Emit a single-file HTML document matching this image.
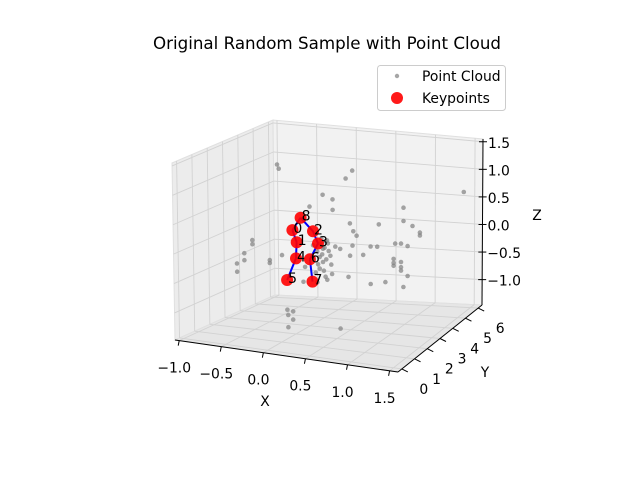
<!DOCTYPE html>
<html><head><meta charset="utf-8"><style>
body{margin:0;background:#fff;}
svg{display:block;font-family:"DejaVu Sans","Liberation Sans",sans-serif;}
</style></head><body>
<svg id="chart" width="640" height="480" viewBox="0 0 640 480" xmlns="http://www.w3.org/2000/svg">
<rect width="640" height="480" fill="#fff"/>
<text x="327" y="49" font-size="16.7" text-anchor="middle">Original Random Sample with Point Cloud</text>
<g id="axes"></g>
<g id="cloud"></g>
<g id="skel"></g>
<g id="kps"></g>
<g>
<rect x="377.5" y="65.5" width="128" height="45" rx="3" fill="#fff" fill-opacity="0.8" stroke="#ccc"/>
<circle cx="397" cy="76" r="2.2" fill="#808080" fill-opacity="0.7"/>
<text x="422" y="81" font-size="13.9">Point Cloud</text>
<circle cx="397" cy="98" r="6" fill="#ff0000" fill-opacity="0.9"/>
<text x="422" y="103" font-size="13.9">Keypoints</text>
</g>
</svg>
<script>
const xTicks=[-1.0,-0.5,0.0,0.5,1.0,1.5];
const yTicks=[0,1,2,3,4,5,6];
const zTicks=[-1.0,-0.5,0.0,0.5,1.0,1.5];
const xTickLabels=["\u22121.0","\u22120.5","0.0","0.5","1.0","1.5"];
const yTickLabels=["0","1","2","3","4","5","6"];
const zTickLabels=["\u22121.0","\u22120.5","0.0","0.5","1.0","1.5"];
const cloudX=[-.30,-.28,.61,.53,1.96,.25,.37,.37,.09,1.23,.58,.93,1.23,1.34,1.43,1.43,.62,.66,1.13,1.20,1.28,.83,.91,.61,.58,.74,.40,.46,.30,.25,.34,.25,.21,.36,.18,.01,.56,1.11,1.11,1.20,1.20,1.28,.83,1.01,1.23,-.61,-.61,-.71,-.71,-.80,-.80,-.40,-.40,-.25,-.19,-.18,-.18,-.12,-.12,.46,.03,.13,.18,.21,.28,.22,.27,.32,.24,.29,.35,.19,.26,.31,.23,.28,1.11,1.20,.16,.30];
const cloudY=[2.5,2.5,2.5,2.5,2.5,2.5,2.5,2.5,2.5,2.5,2.5,2.5,2.5,2.5,2.5,2.5,2.5,2.5,2.5,2.5,2.5,2.5,2.5,2.5,2.5,2.5,2.5,2.5,2.5,2.5,2.5,2.5,2.5,2.5,2.5,2.5,2.5,2.5,2.5,2.5,2.5,2.5,2.5,2.5,2.5,2.5,2.5,2.5,2.5,2.5,2.5,2.5,2.5,2.5,2.5,2.5,2.5,2.5,2.5,2.5,2.5,2.5,2.5,2.5,2.5,2.5,2.5,2.5,2.5,2.5,2.5,2.5,2.5,2.5,2.5,2.5,2.5,2.5,2.5,2.5];
const cloudZ=[1.34,1.27,1.39,1.24,1.25,.91,.85,.67,.68,.85,.47,.51,.62,.55,.45,.40,.34,.27,.21,.22,.19,.11,.12,.09,-.09,-.05,.04,.01,.13,-.02,-.13,-.25,-.37,-.44,-.61,-.63,-.46,-.06,-.18,-.10,-.19,-.33,-.54,-.48,-.53,-.01,-.08,-.25,-.37,-.44,-.58,-.32,-.37,-.21,-1.14,-1.23,-1.44,-1.16,-1.30,-1.37,-.37,.02,-.08,-.17,.11,.06,.00,-.05,-.12,-.20,-.28,-.30,-.40,.08,.15,-.50,-.13,-.25,-.45,-.55];
const kpLabels=["0","1","2","3","4","5","6","7","8"];
const kpX=[-.12,-.07,.13,.19,-.08,-.19,.09,.12,-.02];
const kpY=[2.5,2.5,2.5,2.5,2.5,2.5,2.5,2.5,2.5];
const kpZ=[.24,.04,.26,.06,-.24,-.63,-.23,-.61,.47];
const edgesFrom=[8,8,0,2,1,3,4,6];
const edgesTo=[0,2,1,3,4,6,5,7];

const XMIN=-1.05,XMAX=1.6,YMIN=-0.3,YMAX=6.3,ZMIN=-1.46,ZMAX=1.55;
const C={ '000':[175,340],'100':[398,372],'010':[275,295],'110':[482,305],
          '001':[172,163],'101':[398,195],'011':[273,120],'111':[483,139]};
function proj(x,y,z){
  const u=(x-XMIN)/(XMAX-XMIN), v=(y-YMIN)/(YMAX-YMIN), w=(z-ZMIN)/(ZMAX-ZMIN);
  let px=0,py=0;
  for(const a of [0,1])for(const b of [0,1])for(const c of [0,1]){
    const wt=(a?u:1-u)*(b?v:1-v)*(c?w:1-w);
    const p=C[''+a+b+c]; px+=wt*p[0]; py+=wt*p[1];
  }
  return [px,py];
}
const NS="http://www.w3.org/2000/svg";
function mk(tag,attrs,parent){const e=document.createElementNS(NS,tag);for(const k in attrs)e.setAttribute(k,attrs[k]);parent.appendChild(e);return e;}
function poly(pts){return pts.map(p=>p[0].toFixed(1)+','+p[1].toFixed(1)).join(' ');}
const ax=document.getElementById('axes');
let p=mk('polygon',{points:poly([proj(XMIN,YMIN,ZMIN),proj(XMIN,YMAX,ZMIN),proj(XMIN,YMAX,ZMAX),proj(XMIN,YMIN,ZMAX)]),fill:'#ececec',stroke:'#e0e0e0'},ax);


p=mk('polygon',{points:poly([proj(XMIN,YMAX,ZMIN),proj(XMAX,YMAX,ZMIN),proj(XMAX,YMAX,ZMAX),proj(XMIN,YMAX,ZMAX)]),fill:'#f2f2f2',stroke:'#e0e0e0'},ax);


p=mk('polygon',{points:poly([proj(XMIN,YMIN,ZMIN),proj(XMAX,YMIN,ZMIN),proj(XMAX,YMAX,ZMIN),proj(XMIN,YMAX,ZMIN)]),fill:'#e6e6e6',stroke:'#e0e0e0'},ax);


function gl(a,b){const l=mk('line',{x1:a[0],y1:a[1],x2:b[0],y2:b[1],stroke:'#d2d2d2','stroke-width':0.9},ax);

}
xTicks.forEach(t=>{gl(proj(t,YMIN,ZMIN),proj(t,YMAX,ZMIN));gl(proj(t,YMAX,ZMIN),proj(t,YMAX,ZMAX));});
yTicks.forEach(t=>{gl(proj(XMIN,t,ZMIN),proj(XMAX,t,ZMIN));gl(proj(XMIN,t,ZMIN),proj(XMIN,t,ZMAX));});
zTicks.forEach(t=>{gl(proj(XMIN,YMIN,t),proj(XMIN,YMAX,t));gl(proj(XMIN,YMAX,t),proj(XMAX,YMAX,t));});
function axl(a,b,name){const l=mk('line',{x1:a[0],y1:a[1],x2:b[0],y2:b[1],stroke:'#000','stroke-width':1},ax);

}
axl(proj(XMIN,YMIN,ZMIN),proj(XMAX,YMIN,ZMIN),'x-axis-line');
axl(proj(XMAX,YMIN,ZMIN),proj(XMAX,YMAX,ZMIN),'y-axis-line');
axl(proj(XMAX,YMAX,ZMIN),proj(XMAX,YMAX,ZMAX),'z-axis-line');
function txt(s,pt,name,anchor){const t=mk('text',{x:pt[0].toFixed(1),y:pt[1].toFixed(1),'font-size':13.9,'text-anchor':anchor||'middle'},ax);t.textContent=s;

return t;}
xTicks.forEach((t,i)=>{const a=proj(t,YMIN,ZMIN);axl(a,[a[0]-1,a[1]+5],'x-tick');txt(xTickLabels[i],[a[0]-5,a[1]+32],'x-tick-label');});
yTicks.forEach((t,i)=>{const a=proj(XMAX,t,ZMIN);axl(a,[a[0]+6,a[1]+3],'y-tick');txt(yTickLabels[i],[a[0]+22,a[1]+25],'y-tick-label');});
zTicks.forEach((t,i)=>{const a=proj(XMAX,YMAX,t);axl([a[0]-4,a[1]],[a[0]+4,a[1]],'z-tick');txt(zTickLabels[i],[a[0]+5,a[1]+6],'z-tick-label','start');});
txt('X',[265,406],'x-axis-title');
txt('Y',[485,377],'y-axis-title');
txt('Z',[537,220],'z-axis-title');
const cg=document.getElementById('cloud');
cloudX.forEach((x,i)=>{const q=proj(x,cloudY[i],cloudZ[i]);
const c=mk('circle',{cx:q[0].toFixed(1),cy:q[1].toFixed(1),r:2.3,fill:'#808080','fill-opacity':0.7},cg);

});
const sg=document.getElementById('skel');
edgesFrom.forEach((a,i)=>{const b=edgesTo[i];const p1=proj(kpX[a],kpY[a],kpZ[a]),p2=proj(kpX[b],kpY[b],kpZ[b]);
const l=mk('line',{x1:p1[0],y1:p1[1],x2:p2[0],y2:p2[1],stroke:'#0000ff','stroke-width':2},sg);

});
const kg=document.getElementById('kps');
kpX.forEach((x,i)=>{const q=proj(x,kpY[i],kpZ[i]);
const c=mk('circle',{cx:q[0].toFixed(1),cy:q[1].toFixed(1),r:6,fill:'#ff0000','fill-opacity':0.9},kg);


const t=mk('text',{x:(q[0]+1).toFixed(1),y:(q[1]+3).toFixed(1),'font-size':14},kg);t.textContent=kpLabels[i];

});
</script>
</body></html>
